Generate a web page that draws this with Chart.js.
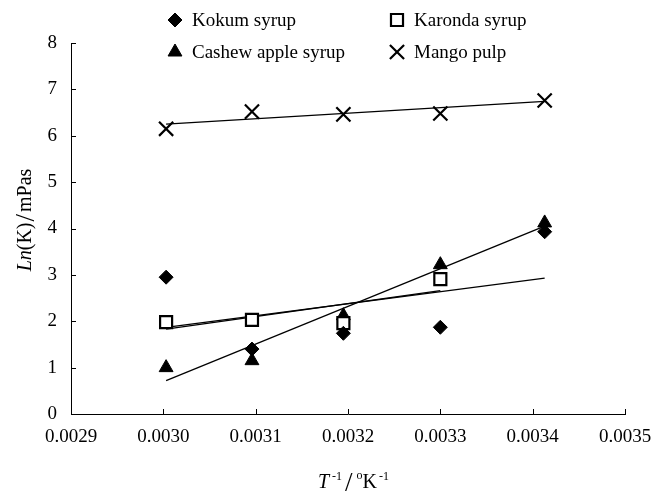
<!DOCTYPE html>
<html>
<head>
<meta charset="utf-8">
<script src="https://cdn.jsdelivr.net/npm/chart.js@4/dist/chart.umd.min.js"></script>
<style>
  html, body { margin: 0; padding: 0; background: #fff; }
  #wrap { width: 651px; height: 495px; }
</style>
</head>
<body>
<div id="wrap"><canvas id="chart" width="651" height="495"></canvas></div>
<script>
// ---- data ----
const temps = [0.003003, 0.003096, 0.003195, 0.0033, 0.003413]; // 1/T
const kokum = [2.95, 1.40, 1.74, 1.87, 3.93];
const karonda = [1.98, 2.03, 1.96, 2.91];
const cashew = [1.00, 1.15, 2.12, 3.22, 4.12];
const mango = [6.15, 6.52, 6.46, 6.48, 6.76];

// trendline ends
const kokumFitX = [0.003003, 0.003413], kokumFitY = [1.87, 2.93];
const karondaFitX = [0.003003, 0.0033], karondaFitY = [1.83, 2.66];
const cashewFitX = [0.003003, 0.003413], cashewFitY = [0.72, 4.05];
const mangoFitX = [0.003003, 0.003413], mangoFitY = [6.25, 6.74];

const xTicks = [0.0029, 0.0030, 0.0031, 0.0032, 0.0033, 0.0034, 0.0035];
const yTicks = [0, 1, 2, 3, 4, 5, 6, 7, 8];

const SERIF = '"Liberation Serif", "Times New Roman", serif';

function pts(xs, ys) {
  return ys.map((y, i) => ({ x: xs[i], y }));
}

// marker styles, shared by the plot and the legend
const MARK = {
  kokum:   { pointStyle: 'rectRot',  radius: 7,   borderWidth: 1, bg: '#000' },
  karonda: { pointStyle: 'rect',     radius: 8.5, borderWidth: 2.2, bg: '#fff' },
  cashew:  { pointStyle: 'triangle', radius: 8,   borderWidth: 1, bg: '#000' },
  mango:   { pointStyle: 'crossRot', radius: 10,  borderWidth: 2.2, bg: '#000' },
};

function scatterSet(label, data, m) {
  return {
    type: 'scatter', label, data,
    pointStyle: m.pointStyle, pointRadius: m.radius,
    pointBorderWidth: m.borderWidth,
    pointBackgroundColor: m.bg, pointBorderColor: '#000',
    order: 1,
  };
}
function fitSet(label, data) {
  return {
    type: 'line', label, data,
    borderColor: '#000', borderWidth: 1.3,
    pointRadius: 0, fill: false, tension: 0,
    order: 2,
  };
}

// legend drawn inside the plot, 2x2
const legendItems = [
  { text: 'Kokum syrup', m: MARK.kokum, x: 175, y: 20 },
  { text: 'Karonda syrup', m: MARK.karonda, x: 397, y: 20 },
  { text: 'Cashew apple syrup', m: MARK.cashew, x: 175, y: 52 },
  { text: 'Mango pulp', m: MARK.mango, x: 397, y: 52 },
];

function drawRuns(ctx, runs, x, y) {
  // runs: [{t, font, dy, gap}]
  let cx = x;
  for (const r of runs) {
    ctx.font = r.font;
    ctx.fillText(r.t, cx, y + (r.dy || 0));
    cx += ctx.measureText(r.t).width + (r.gap || 0);
  }
  return cx - x;
}
function runsWidth(ctx, runs) {
  let w = 0;
  for (const r of runs) { ctx.font = r.font; w += ctx.measureText(r.t).width + (r.gap || 0); }
  return w;
}

const decorPlugin = {
  id: 'decor',
  afterDraw(chart) {
    const { ctx, chartArea: a, scales: { x, y } } = chart;
    ctx.save();

    // inward tick marks
    ctx.strokeStyle = '#000';
    ctx.lineWidth = 1;
    ctx.beginPath();
    for (const v of xTicks) {
      const px = Math.round(x.getPixelForValue(v)) + 0.5;
      ctx.moveTo(px, a.bottom);
      ctx.lineTo(px, a.bottom - 5);
    }
    for (const v of yTicks) {
      const py = Math.round(y.getPixelForValue(v)) + 0.5;
      ctx.moveTo(a.left, py);
      ctx.lineTo(a.left + 5, py);
    }
    ctx.stroke();

    // legend
    ctx.textBaseline = 'middle';
    ctx.textAlign = 'left';
    for (const it of legendItems) {
      ctx.save();
      ctx.fillStyle = it.m.bg;
      ctx.strokeStyle = '#000';
      ctx.lineWidth = it.m.borderWidth;
      Chart.helpers.drawPoint(ctx, { pointStyle: it.m.pointStyle, radius: it.m.radius, rotation: 0, borderWidth: it.m.borderWidth }, it.x, it.y);
      ctx.restore();
      ctx.fillStyle = '#000';
      ctx.font = '19px ' + SERIF;
      ctx.fillText(it.text, it.x + 17, it.y + 1);
    }

    // x axis title: T^-1 / °K^-1
    ctx.fillStyle = '#000';
    ctx.textBaseline = 'alphabetic';
    const xr = [
      { t: 'T', font: 'italic 20px ' + SERIF, gap: 3 },
      { t: '-1', font: '12px ' + SERIF, dy: -8, gap: 3 },
      { t: '/', font: '27px ' + SERIF, dy: 3, gap: 4 },
      { t: 'o', font: '12px ' + SERIF, dy: -9 },
      { t: 'K', font: '20px ' + SERIF, gap: 2 },
      { t: '-1', font: '12px ' + SERIF, dy: -8 },
    ];
    drawRuns(ctx, xr, 318, 488);

    // y axis title: Ln(K)/mPas, rotated
    const yr = [
      { t: 'Ln', font: 'italic 20px ' + SERIF },
      { t: '(K)', font: '20px ' + SERIF, gap: 1 },
      { t: '/', font: '27px ' + SERIF, dy: 3, gap: 2 },
      { t: 'mPas', font: '20px ' + SERIF },
    ];
    const yw = runsWidth(ctx, yr);
    ctx.translate(31, 220);
    ctx.rotate(-Math.PI / 2);
    drawRuns(ctx, yr, -yw / 2, 0);

    ctx.restore();
  },
};

new Chart(document.getElementById('chart'), {
  type: 'scatter',
  data: {
    datasets: [
      scatterSet('Kokum syrup', pts(temps, kokum), MARK.kokum),
      scatterSet('Karonda syrup', pts(temps, karonda), MARK.karonda),
      scatterSet('Cashew apple syrup', pts(temps, cashew), MARK.cashew),
      scatterSet('Mango pulp', pts(temps, mango), MARK.mango),
      fitSet('Kokum fit', pts(kokumFitX, kokumFitY)),
      fitSet('Karonda fit', pts(karondaFitX, karondaFitY)),
      fitSet('Cashew fit', pts(cashewFitX, cashewFitY)),
      fitSet('Mango fit', pts(mangoFitX, mangoFitY)),
    ],
  },
  options: {
    responsive: false,
    animation: false,
    layout: { padding: { top: 43, right: 0, left: 0, bottom: 0 } },
    plugins: {
      legend: { display: false },
      tooltip: { enabled: false },
    },
    scales: {
      x: {
        type: 'linear',
        min: 0.0029, max: 0.0035,
        afterBuildTicks: (s) => { s.ticks = xTicks.map(v => ({ value: v })); },
        afterFit: (s) => { s.height = 81; s.paddingRight = 26; s.paddingLeft = 0; },
        grid: { display: false, drawTicks: false },
        border: { display: true, color: '#000', width: 1 },
        ticks: {
          color: '#000', padding: 12, maxRotation: 0, autoSkip: false,
          font: { family: SERIF, size: 19 },
          callback: (v) => Number(v).toFixed(4),
        },
      },
      y: {
        type: 'linear',
        min: 0, max: 8,
        afterBuildTicks: (s) => { s.ticks = yTicks.map(v => ({ value: v })); },
        afterFit: (s) => { s.width = 71; },
        grid: { display: false, drawTicks: false },
        border: { display: true, color: '#000', width: 1 },
        ticks: {
          color: '#000', padding: 14,
          font: { family: SERIF, size: 19 },
          callback: (v) => `${v}`,
        },
      },
    },
  },
  plugins: [decorPlugin],
});
</script>
</body>
</html>
